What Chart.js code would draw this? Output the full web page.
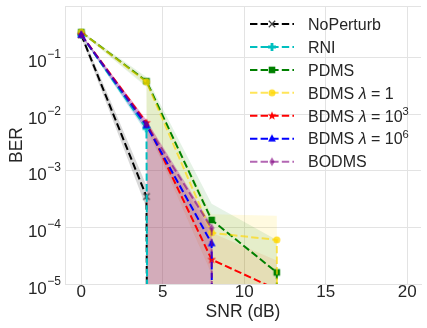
<!DOCTYPE html>
<html><head><meta charset="utf-8">
<script src="https://cdn.jsdelivr.net/npm/chart.js@4.4.0/dist/chart.umd.min.js"></script>
<style>html,body{margin:0;padding:0;background:#fff;}canvas{display:block;}</style>
</head><body>
<canvas id="c" width="427" height="328"></canvas>
<script>
// ---------- data ----------
const snr = [0, 4, 8, 12, 16, 20];
const xTicks = [0, 5, 10, 15, 20];
const yTicks = [1e-5, 1e-4, 1e-3, 1e-2, 1e-1];
const labels = ['NoPerturb', 'RNI', 'PDMS', 'BDMS λ = 1', 'BDMS λ = 10³', 'BDMS λ = 10⁶', 'BODMS'];
// mean BER (0 = no bit error observed)
const berNoPerturb = [0.25, 3.5e-4, 0, 0, 0, 0];
const berRNI       = [0.25, 5.6e-3, 0, 0, 0, 0];
const berPDMS      = [0.28, 0.038, 1.35e-4, 1.6e-5, 0, 0];
const berBDMS1     = [0.28, 0.037, 8.0e-5, 6.0e-5, 0, 0];
const berBDMS3     = [0.25, 7.0e-3, 2.7e-5, 8.0e-6, 0, 0];
const berBDMS6     = [0.25, 6.3e-3, 5.2e-5, 0, 0, 0];
const berBODMS     = [0.25, 6.6e-3, 9.7e-5, 0, 0, 0];
// spread bands (upper / lower), 0 = clipped
const upNoPerturb = [0.28, 5.5e-4, 0, 0, 0, 0];
const loNoPerturb = [0.22, 2.2e-4, 0, 0, 0, 0];
const upRNI       = [0.26, 6.5e-3, 0, 0, 0, 0];
const loRNI       = [0.24, 4.6e-3, 0, 0, 0, 0];
const upPDMS      = [0.29, 0.045, 2.6e-4, 6.0e-5, 0, 0];
const loPDMS      = [0.27, 0.030, 0, 0, 0, 0];
const upBDMS1     = [0.29, 0.042, 1.7e-4, 1.6e-4, 0, 0];
const loBDMS1     = [0.27, 0.032, 0, 0, 0, 0];
const upBDMS3     = [0.26, 8.0e-3, 8.0e-5, 2.6e-5, 0, 0];
const loBDMS3     = [0.24, 6.0e-3, 1.5e-5, 0, 0, 0];
const upBDMS6     = [0.26, 7.0e-3, 7.0e-5, 0, 0, 0];
const loBDMS6     = [0.24, 5.0e-3, 3.0e-5, 0, 0, 0];
const upBODMS     = [0.26, 7.8e-3, 1.1e-4, 0, 0, 0];
const loBODMS     = [0.24, 5.0e-3, 0, 0, 0, 0];

const means = [berNoPerturb, berRNI, berPDMS, berBDMS1, berBDMS3, berBDMS6, berBODMS];
const uppers = [upNoPerturb, upRNI, upPDMS, upBDMS1, upBDMS3, upBDMS6, upBODMS];
const lowers = [loNoPerturb, loRNI, loPDMS, loBDMS1, loBDMS3, loBDMS6, loBODMS];

// ---------- styles ----------
const lineColors = ['#000000', '#00bfbf', '#008000', 'rgba(255,215,0,0.65)', '#ff0000', '#0000ff', 'rgba(128,0,128,0.6)'];
const markerColors = ['#444444', '#00bfbf', '#008000', 'rgba(255,215,0,0.8)', '#ff0000', '#0000ff', 'rgba(128,0,128,0.6)'];
const fillColors = ['rgba(0,0,0,0.15)', 'rgba(0,191,191,0.2)', 'rgba(0,128,0,0.1)', 'rgba(255,215,0,0.12)',
                    'rgba(255,60,0,0.1)', 'rgba(0,0,255,0.06)', 'rgba(185,0,195,0.33)'];
const markerKinds = ['x', 'plus', 'square', 'circle', 'star', 'triangle', 'diamond'];
const FONT = '"Liberation Sans", Arial, sans-serif';
const TEXT = '#262626';
const GRID = '#e3e3e3';
const FLOOR = 1e-300; // matplotlib-like clipping of non-positive values on log axis

function makeMarker(kind, color) {
  const s = 14, c = document.createElement('canvas');
  c.width = c.height = s;
  const g = c.getContext('2d');
  g.translate(s / 2, s / 2);
  g.fillStyle = color; g.strokeStyle = color;
  g.beginPath();
  switch (kind) {
    case 'x':
      g.lineWidth = 1.3;
      g.moveTo(-3.2, -3.2); g.lineTo(3.2, 3.2); g.moveTo(-3.2, 3.2); g.lineTo(3.2, -3.2);
      g.stroke(); break;
    case 'plus':
      g.rect(-4, -1.4, 8, 2.8); g.rect(-1.4, -4, 2.8, 8); g.fill('nonzero'); break;
    case 'square':
      g.fillRect(-3.3, -3.3, 6.6, 6.6); break;
    case 'circle':
      g.arc(0, 0, 3.5, 0, Math.PI * 2); g.fill(); break;
    case 'star':
      for (let i = 0; i < 10; i++) {
        const r = i % 2 ? 1.9 : 4.6, a = -Math.PI / 2 + i * Math.PI / 5;
        i ? g.lineTo(r * Math.cos(a), r * Math.sin(a)) : g.moveTo(r * Math.cos(a), r * Math.sin(a));
      }
      g.closePath(); g.fill(); break;
    case 'triangle':
      g.moveTo(0, -4.4); g.lineTo(3.9, 2.8); g.lineTo(-3.9, 2.8); g.closePath(); g.fill(); break;
    case 'diamond':
      g.moveTo(0, -4.4); g.lineTo(2.7, 0); g.lineTo(0, 4.4); g.lineTo(-2.7, 0); g.closePath(); g.fill(); break;
  }
  return c;
}
const markers = markerKinds.map((k, i) => makeMarker(k, markerColors[i]));
const pts = arr => arr.map((v, i) => ({x: snr[i], y: v > 0 ? v : FLOOR}));

const datasets = [];
labels.forEach((lab, i) => {
  datasets.push({label: lab + ' upper', data: pts(uppers[i]), borderColor: 'transparent', borderWidth: 0,
    pointRadius: 0, fill: false, tension: 0, order: 100});
  datasets.push({label: lab + ' lower', data: pts(lowers[i]), borderColor: 'transparent', borderWidth: 0,
    pointRadius: 0, fill: '-1', backgroundColor: fillColors[i], tension: 0, order: 100});
});
labels.forEach((lab, i) => {
  datasets.push({label: lab, data: pts(means[i]), borderColor: lineColors[i], borderWidth: 2,
    borderDash: [7.4, 3.2], pointStyle: markers[i], pointRadius: 4, fill: false, tension: 0,
    order: 20 - i, isMain: true});
});

// rich text: superscript digits and italic greek
const SUP = {'⁰':'0','¹':'1','²':'2','³':'3','⁴':'4','⁵':'5','⁶':'6','⁷':'7','⁸':'8','⁹':'9','⁻':'−'};
function drawRich(ctx, text, x, y, size) {
  ctx.textBaseline = 'alphabetic'; ctx.textAlign = 'left';
  for (const ch of text) {
    let font = size + 'px ' + FONT, dy = 0, t = ch;
    if (SUP[ch]) { t = SUP[ch]; font = (size * 0.7) + 'px ' + FONT; dy = -size * 0.42; }
    else if (/[α-ω]/.test(ch)) { font = 'italic ' + size + 'px ' + FONT; }
    ctx.font = font;
    ctx.fillText(t, x, y + dy);
    x += ctx.measureText(t).width;
  }
}

const decor = {
  id: 'decor',
  beforeDatasetsDraw(chart) {
    const {ctx, chartArea: a} = chart;
    ctx.save();
    ctx.strokeStyle = GRID; ctx.lineWidth = 1;
    ctx.beginPath(); ctx.moveTo(a.left, a.top + 0.5); ctx.lineTo(a.right, a.top + 0.5); ctx.stroke();
    ctx.restore();
  },
  afterDraw(chart) {
    const {ctx} = chart;
    const ys = chart.scales.y;
    ctx.save();
    ctx.fillStyle = TEXT;
    // y tick labels 10^-n
    yTicks.forEach(v => {
      const yp = ys.getPixelForValue(v);
      const e = '−' + Math.round(-Math.log10(v));
      ctx.font = '12px ' + FONT;
      const ew = ctx.measureText(e).width;
      ctx.font = '17px ' + FONT;
      const tw = ctx.measureText('10').width;
      const right = 61;
      ctx.textBaseline = 'alphabetic'; ctx.textAlign = 'left';
      ctx.fillText('10', right - ew - tw - 0.5, yp + 9.5);
      ctx.font = '12px ' + FONT;
      ctx.fillText(e, right - ew, yp + 0.5);
    });
    // legend
    const mains = chart.data.datasets.filter(d => d.isMain);
    mains.forEach((d, i) => {
      const y = 24 + i * 22.95;
      ctx.save();
      ctx.strokeStyle = d.borderColor; ctx.lineWidth = 2; ctx.setLineDash([7.4, 3.2]);
      ctx.beginPath(); ctx.moveTo(250, y); ctx.lineTo(294, y); ctx.stroke();
      ctx.restore();
      ctx.drawImage(d.pointStyle, 272 - 7, y - 7);
      ctx.fillStyle = TEXT;
      drawRich(ctx, d.label, 308, y + 5.7, 16);
    });
    ctx.restore();
  }
};

new Chart(document.getElementById('c'), {
  type: 'line',
  data: {datasets},
  options: {
    responsive: false, animation: false, devicePixelRatio: 1,
    layout: {padding: {top: 3, left: 0, right: 0, bottom: 0}},
    plugins: {legend: {display: false}, tooltip: {enabled: false}},
    elements: {line: {tension: 0}},
    scales: {
      x: {
        type: 'linear', min: -1, max: 20.85,
        afterBuildTicks: s => { s.ticks = xTicks.map(v => ({value: v})); },
        afterFit: s => { s.height = 44; },
        grid: {color: GRID, drawTicks: false},
        border: {color: GRID},
        ticks: {color: TEXT, font: {family: FONT, size: 17}, padding: -2, maxRotation: 0},
        title: {display: true, text: 'SNR (dB)', color: TEXT, font: {family: FONT, size: 17.5}, padding: {top: 0, bottom: 5.5}}
      },
      y: {
        type: 'logarithmic', min: 1e-5, max: 0.808,
        afterBuildTicks: s => { s.ticks = yTicks.map(v => ({value: v, major: true})); },
        afterFit: s => { s.width = 65; },
        grid: {color: GRID, drawTicks: false},
        border: {color: GRID},
        ticks: {display: false},
        title: {display: true, text: 'BER', color: TEXT, font: {family: FONT, size: 17.5}, padding: {top: 6.5, bottom: 0}}
      }
    }
  },
  plugins: [decor]
});
</script>
</body></html>
